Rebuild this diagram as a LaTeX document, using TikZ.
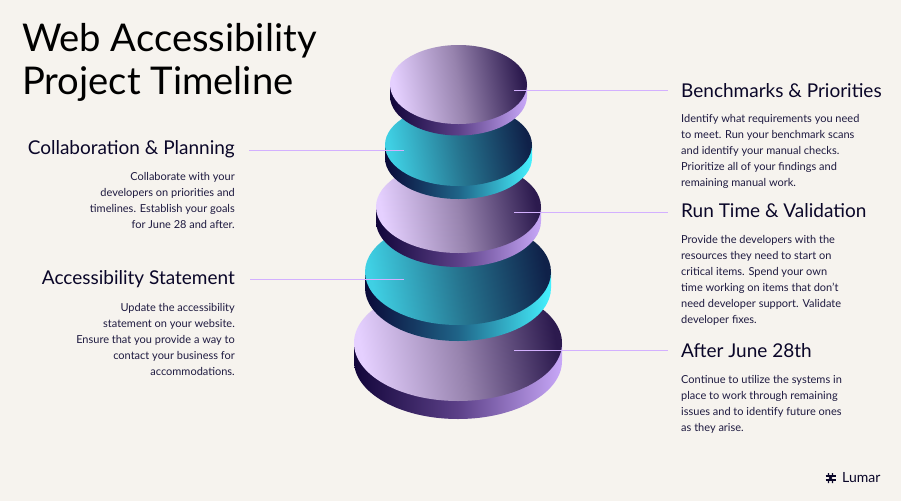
\documentclass[tikz,border=0pt]{standalone}
\usepackage{fontspec}
\setmainfont{Lato}
\usetikzlibrary{calc}
\definecolor{bgc}{HTML}{F6F3EE}
\definecolor{ink}{HTML}{0A0628}
\definecolor{bodyink}{HTML}{1E1A40}
\definecolor{leader}{HTML}{D3B0FF}
\definecolor{va}{HTML}{E5D0FF}\definecolor{vb}{HTML}{9783AE}\definecolor{vc}{HTML}{2C1A4E}
\definecolor{sa}{HTML}{12053A}\definecolor{sb}{HTML}{5C4088}\definecolor{sc}{HTML}{C8A8F8}
\definecolor{ta}{HTML}{3FD0E4}\definecolor{tb}{HTML}{26748F}\definecolor{tc}{HTML}{0F2149}
\definecolor{ua}{HTML}{0A0A38}\definecolor{ub}{HTML}{1F6488}\definecolor{uc}{HTML}{45F2FF}
\pgfdeclarehorizontalshading{violettop}{100bp}{color(0bp)=(va);color(25bp)=(va);color(50bp)=(vb);color(75bp)=(vc);color(100bp)=(vc)}
\pgfdeclarehorizontalshading{violetside}{100bp}{color(0bp)=(sa);color(25bp)=(sa);color(50bp)=(sb);color(75bp)=(sc);color(100bp)=(sc)}
\pgfdeclarehorizontalshading{tealtop}{100bp}{color(0bp)=(ta);color(25bp)=(ta);color(50bp)=(tb);color(75bp)=(tc);color(100bp)=(tc)}
\pgfdeclarehorizontalshading{tealside}{100bp}{color(0bp)=(ua);color(25bp)=(ua);color(50bp)=(ub);color(75bp)=(uc);color(100bp)=(uc)}
\newcommand{\platter}[7]{% cx cy rx ry thick side top
  \path[shading=#6] (#1-#3,#2) -- (#1-#3,#2+#5)
     arc[start angle=180,end angle=0,x radius=#3,y radius=#4] -- (#1+#3,#2) -- cycle;
  \path[shading=#7,shading angle=10] (#1,#2) ellipse[x radius=#3,y radius=#4];
}
\tikzset{
  titletext/.style={font=\fontsize{38.2}{43}\selectfont,text=black,inner sep=0pt,align=left},
  headtext/.style={font=\fontsize{19}{22}\selectfont,text=ink,inner sep=0pt},
  bodyr/.style={font=\fontsize{11}{16}\selectfont,text=bodyink,inner sep=0pt,align=left,anchor=north west},
  bodyl/.style={font=\fontsize{11}{16}\selectfont,text=bodyink,inner sep=0pt,align=right,anchor=north east},
  leaderline/.style={draw=leader,line width=1.1pt},
}
\begin{document}
\begin{tikzpicture}[x=1pt,y=-1pt]
\useasboundingbox (0,0) rectangle (901,501);
\fill[bgc] (0,0) rectangle (901,501);
\platter{458}{343}{104}{58}{18}{violetside}{violettop}
\platter{458}{272}{93}{53}{16}{tealside}{tealtop}
\platter{458.5}{207}{82.5}{46}{14}{violetside}{violettop}
\platter{458.5}{145}{73.5}{41}{13}{tealside}{tealtop}
\platter{458.5}{84.5}{68.5}{39.5}{11.5}{violetside}{violettop}

\node[titletext,anchor=north west] (title) at (22,23) {Web Accessibility\\Project Timeline};

\node[headtext,anchor=east] (h1) at (235,149) {Collaboration \& Planning};
\node[bodyl] (b1) at (235,172.5) {Collaborate with your\\developers on priorities and\\timelines. Establish your goals\\for June 28 and after.};
\node[headtext,anchor=east] (h2) at (235,279) {Accessibility Statement};
\node[bodyl] (b2) at (235,303.5) {Update the accessibility\\statement on your website.\\Ensure that you provide a way to\\contact your business for\\accommodations.};

\node[headtext,anchor=west] (h3) at (681,91) {Benchmarks \& Priorities};
\node[bodyr] (b3) at (681,114.5) {Identify what requirements you need\\to meet. Run your benchmark scans\\and identify your manual checks.\\Prioritize all of your findings and\\remaining manual work.};
\node[headtext,anchor=west] (h4) at (681,211) {Run Time \& Validation};
\node[bodyr] (b4) at (681,235.5) {Provide the developers with the\\resources they need to start on\\critical items. Spend your own\\time working on items that don't\\need developer support. Validate\\developer fixes.};
\node[headtext,anchor=west] (h5) at (681,351) {After June 28th};
\node[bodyr] (b5) at (681,375.5) {Continue to utilize the systems in\\place to work through remaining\\issues and to identify future ones\\as they arise.};

\coordinate (p1) at (404,150.5); \coordinate (q1) at (249,150.5);
\coordinate (p2) at (404,279.5); \coordinate (q2) at (250,279.5);
\coordinate (p3) at (514,90.5);  \coordinate (q3) at (668,90.5);
\coordinate (p4) at (514,212.5); \coordinate (q4) at (668,212.5);
\coordinate (p5) at (514,350.5); \coordinate (q5) at (668,350.5);
\foreach \i in {1,...,5} \draw[leaderline] (p\i) -- (q\i);

\node[font=\fontsize{14}{15}\selectfont,text=ink,inner sep=0pt,anchor=west] (brand) at (842,478) {Lumar};
\coordinate (logo) at (830.5,478);
\begin{scope}[shift={(logo)},line width=1.2pt]
  \draw[ink] (-5,-2) -- (5,-2); \draw[ink] (-5,2) -- (5,2);
  \draw[ink] (-2,-5) -- (-2,-2) -- (2,2) -- (2,5);
  \draw[ink] (2,-5) -- (2,-2) -- (-2,2) -- (-2,5);
\end{scope}
\end{tikzpicture}
\end{document}
